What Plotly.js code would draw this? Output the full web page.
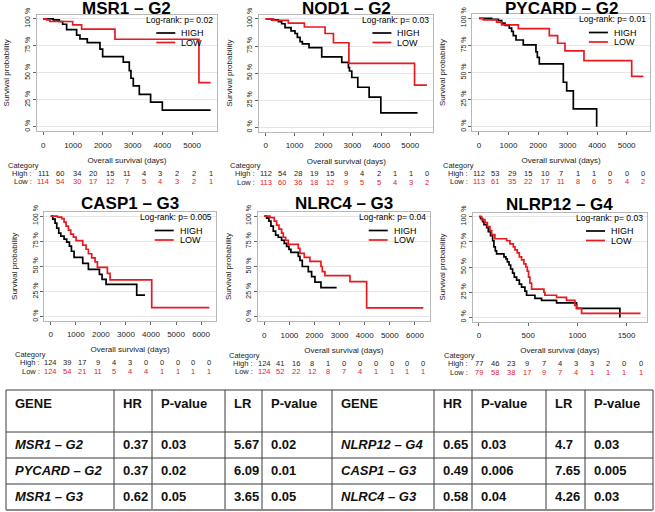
<!DOCTYPE html>
<html><head><meta charset="utf-8">
<script src="https://cdn.plot.ly/plotly-3.0.1.min.js"></script>
<style>html,body{margin:0;padding:0;background:#fff}#chart{width:655px;height:512px}</style>
</head><body><div id="chart"></div>
<script>
// ---------------- DATA ----------------
const titles = ['MSR1 – G2', 'NOD1 – G2', 'PYCARD – G2', 'CASP1 – G3', 'NLRC4 – G3', 'NLRP12 – G4'];
const logrankP = ['0.02', '0.03', '0.01', '0.005', '0.04', '0.03'];

const msr1_high_days = [0, 336, 538, 650, 784, 1120, 1232, 1478, 1904, 1994, 2688, 2890, 2946, 3024, 3226, 3606, 4000, 5622];
const msr1_high_surv = [1, 0.99, 0.975, 0.95, 0.90, 0.85, 0.814, 0.78, 0.72, 0.65, 0.60, 0.52, 0.45, 0.38, 0.30, 0.23, 0.155, 0.155];
const msr1_low_days = [0, 112, 224, 986, 1288, 2408, 5230, 5622];
const msr1_low_surv = [1, 0.99, 0.975, 0.944, 0.904, 0.811, 0.409, 0.409];

const nod1_high_days = [0, 208, 439, 554, 670, 878, 1016, 1097, 1190, 1270, 1500, 1940, 2633, 2864, 2900, 2980, 3188, 3580, 3985, 5255];
const nod1_high_surv = [1, 0.99, 0.975, 0.955, 0.92, 0.89, 0.865, 0.83, 0.79, 0.77, 0.735, 0.65, 0.60, 0.55, 0.52, 0.46, 0.37, 0.28, 0.135, 0.135];
const nod1_low_days = [0, 266, 785, 1340, 2056, 2345, 2880, 5151, 5580];
const nod1_low_surv = [1, 0.985, 0.96, 0.925, 0.865, 0.78, 0.59, 0.39, 0.39];

const pycard_high_days = [0, 429, 655, 768, 880, 1027, 1106, 1163, 1253, 1500, 1930, 1976, 2043, 2856, 2970, 3195, 3985];
const pycard_high_surv = [1, 0.99, 0.98, 0.955, 0.935, 0.91, 0.88, 0.84, 0.80, 0.755, 0.69, 0.64, 0.58, 0.41, 0.33, 0.165, 0];
const pycard_low_days = [0, 147, 598, 768, 1332, 2382, 2664, 2913, 3556, 5171, 5565];
const pycard_low_surv = [1, 0.985, 0.965, 0.94, 0.905, 0.84, 0.77, 0.70, 0.61, 0.465, 0.465];

const casp1_high_days = [0, 80, 173, 240, 320, 400, 532, 638, 745, 825, 931, 1277, 1503, 1942, 2048, 2208, 3431, 3764];
const casp1_high_surv = [1, 0.97, 0.93, 0.88, 0.83, 0.80, 0.77, 0.74, 0.70, 0.65, 0.59, 0.53, 0.47, 0.42, 0.37, 0.32, 0.215, 0.215];
const casp1_low_days = [0, 266, 439, 532, 612, 705, 798, 904, 1011, 1277, 1410, 1503, 1636, 1769, 1862, 2261, 2367, 4030, 6330];
const casp1_low_surv = [1, 0.99, 0.975, 0.94, 0.90, 0.86, 0.82, 0.79, 0.755, 0.71, 0.67, 0.625, 0.585, 0.545, 0.49, 0.43, 0.365, 0.09, 0.09];

const nlrc4_high_days = [0, 93, 186, 266, 359, 452, 558, 691, 797, 890, 983, 1062, 1355, 1421, 1514, 1753, 1886, 2019, 2258, 2882];
const nlrc4_high_surv = [1, 0.98, 0.95, 0.90, 0.85, 0.81, 0.79, 0.76, 0.73, 0.70, 0.67, 0.64, 0.60, 0.56, 0.50, 0.45, 0.40, 0.345, 0.29, 0.29];
const nlrc4_low_days = [0, 226, 398, 491, 584, 691, 757, 850, 956, 1355, 1421, 1594, 1819, 2258, 2311, 2417, 3413, 4077, 6335];
const nlrc4_low_surv = [1, 0.985, 0.95, 0.91, 0.87, 0.83, 0.79, 0.76, 0.72, 0.68, 0.63, 0.59, 0.55, 0.50, 0.45, 0.41, 0.35, 0.09, 0.09];

const nlrp12_high_days = [0, 17, 37, 51, 78, 95, 118, 139, 152, 166, 179, 254, 274, 288, 305, 322, 342, 359, 383, 410, 433, 467, 484, 569, 636, 789, 992, 1432];
const nlrp12_high_surv = [1, 0.98, 0.95, 0.92, 0.89, 0.85, 0.81, 0.76, 0.70, 0.66, 0.63, 0.60, 0.58, 0.55, 0.52, 0.48, 0.44, 0.40, 0.37, 0.33, 0.30, 0.26, 0.22, 0.19, 0.17, 0.145, 0.09, 0];
const nlrp12_low_days = [0, 27, 61, 85, 112, 129, 162, 281, 315, 349, 366, 389, 410, 433, 457, 477, 491, 504, 518, 535, 660, 670, 789, 890, 975, 992, 1043, 1642];
const nlrp12_low_surv = [1, 0.97, 0.94, 0.90, 0.86, 0.82, 0.78, 0.76, 0.73, 0.70, 0.67, 0.64, 0.60, 0.57, 0.53, 0.50, 0.46, 0.40, 0.34, 0.28, 0.25, 0.22, 0.20, 0.17, 0.12, 0.09, 0.04, 0.04];

const msr1_atrisk_high = [111, 60, 34, 20, 15, 11, 4, 3, 2, 2, 1];
const msr1_atrisk_low = [114, 54, 30, 17, 12, 7, 5, 4, 3, 2, 1];
const nod1_atrisk_high = [112, 54, 28, 19, 15, 9, 4, 2, 1, 1, 0];
const nod1_atrisk_low = [113, 60, 36, 18, 12, 9, 5, 5, 4, 3, 2];
const pycard_atrisk_high = [112, 53, 29, 15, 10, 7, 1, 1, 0, 0, 0];
const pycard_atrisk_low = [113, 61, 35, 22, 17, 11, 8, 6, 5, 4, 2];
const casp1_atrisk_high = [124, 39, 17, 9, 4, 3, 0, 0, 0, 0, 0];
const casp1_atrisk_low = [124, 54, 21, 11, 5, 4, 4, 1, 1, 1, 1];
const nlrc4_atrisk_high = [124, 41, 16, 8, 1, 0, 0, 0, 0, 0, 0];
const nlrc4_atrisk_low = [124, 52, 22, 12, 8, 7, 4, 1, 1, 1, 1];
const nlrp12_atrisk_high = [77, 46, 23, 9, 7, 4, 3, 3, 2, 0, 0];
const nlrp12_atrisk_low = [79, 58, 38, 17, 9, 7, 4, 1, 1, 1, 1];

const xticks_long = [0, 1000, 2000, 3000, 4000, 5000];
const xticks_longer = [0, 1000, 2000, 3000, 4000, 5000, 6000];
const xticks_short = [0, 500, 1000, 1500];
const yticks = [0, 0.25, 0.5, 0.75, 1];
const yticklabels = ['0 %', '25 %', '50 %', '75 %', '100 %'];

const tableHeader = ['GENE', 'HR', 'P-value', 'LR', 'P-value', 'GENE', 'HR', 'P-value', 'LR', 'P-value'];
const tableGeneA = ['MSR1 – G2', 'PYCARD – G2', 'MSR1 – G3'];
const tableHrA = ['0.37', '0.37', '0.62'];
const tablePhrA = ['0.03', '0.02', '0.05'];
const tableLrA = ['5.67', '6.09', '3.65'];
const tablePlrA = ['0.02', '0.01', '0.05'];
const tableGeneB = ['NLRP12 – G4', 'CASP1 – G3', 'NLRC4 – G3'];
const tableHrB = ['0.65', '0.49', '0.58'];
const tablePhrB = ['0.03', '0.006', '0.04'];
const tableLrB = ['4.7', '7.65', '4.26'];
const tablePlrB = ['0.03', '0.005', '0.03'];

// ---------------- LAYOUT / DRAWING ----------------
const W = 655, H = 512;
const FONT = 'Liberation Sans, Arial, Helvetica, sans-serif';
const RED = '#e8191f';

const panels = [
  {hd: msr1_high_days, hs: msr1_high_surv, ld: msr1_low_days, ls: msr1_low_surv, ah: msr1_atrisk_high, al: msr1_atrisk_low, ticks: xticks_long, box: [36.6, 217.3, 14.5, 131.2]},
  {hd: nod1_high_days, hs: nod1_high_surv, ld: nod1_low_days, ls: nod1_low_surv, ah: nod1_atrisk_high, al: nod1_atrisk_low, ticks: xticks_long, box: [259.2, 433.4, 14.5, 131.8]},
  {hd: pycard_high_days, hs: pycard_high_surv, ld: pycard_low_days, ls: pycard_low_surv, ah: pycard_atrisk_high, al: pycard_atrisk_low, ticks: xticks_long, box: [472.4, 649.9, 14.0, 131.0]},
  {hd: casp1_high_days, hs: casp1_high_surv, ld: casp1_low_days, ls: casp1_low_surv, ah: casp1_atrisk_high, al: casp1_atrisk_low, ticks: xticks_longer, box: [44.4, 215.7, 212.0, 320.7]},
  {hd: nlrc4_high_days, hs: nlrc4_high_surv, ld: nlrc4_low_days, ls: nlrc4_low_surv, ah: nlrc4_atrisk_high, al: nlrc4_atrisk_low, ticks: xticks_longer, box: [257.9, 429.7, 212.0, 321.0]},
  {hd: nlrp12_high_days, hs: nlrp12_high_surv, ld: nlrp12_low_days, ls: nlrp12_low_surv, ah: nlrp12_atrisk_high, al: nlrp12_atrisk_low, ticks: xticks_short, box: [472.5, 647.0, 212.5, 321.5]}
];

const px = v => v / W;
const py = v => 1 - v / H;

const traces = [], shapes = [], annotations = [];
const layout = {
  width: W, height: H,
  margin: {l: 0, r: 0, t: 0, b: 0},
  paper_bgcolor: '#fff', plot_bgcolor: '#fff',
  showlegend: false,
  font: {family: FONT, color: '#222'}
};

panels.forEach((p, i) => {
  const n = i + 1, sfx = n > 1 ? String(n) : '';
  const xa = 'x' + sfx, ya = 'y' + sfx;
  const [L, R, T, B] = p.box;
  const xmax = Math.max(...p.hd, ...p.ld);
  layout['xaxis' + sfx] = {
    domain: [px(L), px(R)], anchor: ya,
    range: [-0.04 * xmax, 1.04 * xmax],
    tickvals: p.ticks, ticks: 'outside', ticklen: 3, tickcolor: '#666',
    ticklabelstandoff: 3,
    tickfont: {family: FONT, size: 8, color: '#222'},
    showline: true, mirror: true, linecolor: '#b8b8b8', linewidth: 1,
    showgrid: false, zeroline: false,
    title: {text: 'Overall survival (days)', font: {family: FONT, size: 8, color: '#222'}, standoff: 8}
  };
  layout['yaxis' + sfx] = {
    domain: [py(B), py(T)], anchor: xa,
    range: [-0.04, 1.04],
    tickvals: yticks, ticktext: yticklabels, tickangle: -90,
    ticks: 'outside', ticklen: 3, tickcolor: '#666',
    tickfont: {family: FONT, size: 7, color: '#222'},
    showline: true, mirror: true, linecolor: '#b8b8b8', linewidth: 1,
    showgrid: true, gridcolor: '#e6e6e6', gridwidth: 1, zeroline: false,
    title: {text: 'Survival probability', font: {family: FONT, size: 8, color: '#222'}, standoff: 12}
  };
  traces.push({x: p.hd, y: p.hs, xaxis: xa, yaxis: ya, type: 'scatter', mode: 'lines',
    line: {shape: 'hv', color: '#000', width: 1.7}, hoverinfo: 'skip'});
  traces.push({x: p.ld, y: p.ls, xaxis: xa, yaxis: ya, type: 'scatter', mode: 'lines',
    line: {shape: 'hv', color: RED, width: 1.7}, hoverinfo: 'skip'});

  // title
  const titleY = T < 100 ? 8.5 : T - 8.5;
  annotations.push({xref: 'paper', yref: 'paper', x: px((L + R) / 2), y: py(titleY),
    text: '<b>' + titles[i] + '</b>', showarrow: false, xanchor: 'center', yanchor: 'middle',
    font: {family: FONT, size: 17, color: '#000'}});
  // log-rank
  annotations.push({xref: 'paper', yref: 'paper', x: px(R - 2), y: py(T + 5),
    text: 'Log-rank: p= ' + logrankP[i], showarrow: false, xanchor: 'right', yanchor: 'middle',
    font: {family: FONT, size: 8.5, color: '#000'}});
  // legend
  [['HIGH', '#000', 18.5], ['LOW', RED, 28]].forEach(([lab, col, dy]) => {
    shapes.push({type: 'line', xref: 'paper', yref: 'paper', x0: px(R - 61), x1: px(R - 42),
      y0: py(T + dy), y1: py(T + dy), line: {color: col, width: 1.7}});
    annotations.push({xref: 'paper', yref: 'paper', x: px(R - 38), y: py(T + dy),
      text: lab, showarrow: false, xanchor: 'left', yanchor: 'middle',
      font: {family: FONT, size: 9, color: '#000'}});
  });
  // numbers at risk
  annotations.push({xref: 'paper', yref: 'paper', x: px(L - 31), y: py(B + 34),
    text: 'Category', showarrow: false, xanchor: 'left', yanchor: 'middle',
    font: {family: FONT, size: 7.5, color: '#222'}});
  [['High : ', p.ah, '#222', 42], ['Low : ', p.al, RED, 50.5]].forEach(([lab, arr, col, dy]) => {
    annotations.push({xref: xa, yref: 'paper', x: 0, xshift: -7, y: py(B + dy),
      text: lab, showarrow: false, xanchor: 'right', yanchor: 'middle',
      font: {family: FONT, size: 7.5, color: '#222'}});
    arr.forEach((v, k) => {
      annotations.push({xref: xa, yref: 'paper', x: k * xmax / 10, y: py(B + dy),
        text: String(v), showarrow: false, xanchor: 'center', yanchor: 'middle',
        font: {family: FONT, size: 7.5, color: col}});
    });
  });
});

// ---------------- TABLE (grid + text) ----------------
const colX = [6, 114, 152, 225, 262, 332, 434, 472, 546, 585, 653];
const rowY = [390, 432, 458, 484, 510];
colX.forEach(x => shapes.push({type: 'line', xref: 'paper', yref: 'paper',
  x0: px(x), x1: px(x), y0: py(rowY[0]), y1: py(rowY[rowY.length - 1]),
  line: {color: '#3a3a3a', width: 1}}));
rowY.forEach((y, r) => shapes.push({type: 'line', xref: 'paper', yref: 'paper',
  x0: px(colX[0]), x1: px(colX[colX.length - 1]), y0: py(y), y1: py(y),
  line: {color: r === rowY.length - 1 ? '#8a8a8a' : '#3a3a3a', width: r === rowY.length - 1 ? 2 : 1}}));

const tableCols = [tableGeneA, tableHrA, tablePhrA, tableLrA, tablePlrA,
                   tableGeneB, tableHrB, tablePhrB, tableLrB, tablePlrB];
const italicCols = [0, 5];
tableHeader.forEach((h, c) => {
  annotations.push({xref: 'paper', yref: 'paper', x: px(colX[c] + 7), y: py(rowY[0] + 13),
    text: '<b>' + h + '</b>', showarrow: false, xanchor: 'left', yanchor: 'middle',
    font: {family: FONT, size: 13, color: '#111'}});
  tableCols[c].forEach((v, r) => {
    const t = italicCols.includes(c) ? '<b><i>' + v + '</i></b>' : '<b>' + v + '</b>';
    annotations.push({xref: 'paper', yref: 'paper', x: px(colX[c] + 7),
      y: py((rowY[r + 1] + rowY[r + 2]) / 2 - 1),
      text: t, showarrow: false, xanchor: 'left', yanchor: 'middle',
      font: {family: FONT, size: 13, color: '#111'}});
  });
});

layout.shapes = shapes;
layout.annotations = annotations;
Plotly.newPlot('chart', traces, layout, {staticPlot: true, displayModeBar: false});
</script></body></html>
